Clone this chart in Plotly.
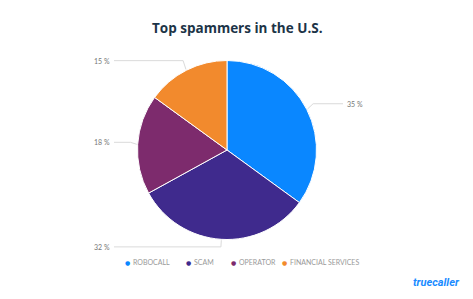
import math
import plotly.graph_objects as go

categories = ["ROBOCALL", "SCAM", "OPERATOR", "FINANCIAL SERVICES"]
values = [35, 32, 18, 15]
colors = ["#0A87FF", "#3F2A8D", "#7D2B6D", "#F28A2D"]
label_texts = [f"{v} %" for v in values]

W, H = 473, 299
cx, cy, r = 227, 150, 89.5

fig = go.Figure()
fig.add_trace(go.Pie(
    labels=categories, values=values, sort=False, direction="clockwise",
    rotation=0, textinfo="none", hoverinfo="label+percent",
    marker=dict(colors=colors, line=dict(color="white", width=1)),
    domain=dict(x=[(cx - r) / W, (cx + r) / W], y=[1 - (cy + r) / H, 1 - (cy - r) / H]),
    showlegend=False,
))

def px(x):
    return x / W

def py(y):
    return 1 - y / H

shapes = []
annotations = []
total = sum(values)
cum = 0
for v, txt in zip(values, label_texts):
    mid = (cum + v / 2) / total * 2 * math.pi
    cum += v
    sx, sy = cx + 1.01 * r * math.sin(mid), cy - 1.01 * r * math.cos(mid)
    ax, ay = cx + 1.08 * r * math.sin(mid), cy - 1.08 * r * math.cos(mid)
    ay = cy + (ay - cy) * 1.02 - 1.5
    right = math.sin(mid) > 0
    lx = 343 if right else 114
    line_col = "#DADADA"
    shapes.append(dict(type="line", xref="paper", yref="paper",
                       x0=px(sx), y0=py(sy), x1=px(ax), y1=py(ay),
                       line=dict(color=line_col, width=1)))
    shapes.append(dict(type="line", xref="paper", yref="paper",
                       x0=px(ax), y0=py(ay), x1=px(lx), y1=py(ay),
                       line=dict(color=line_col, width=1)))
    annotations.append(dict(xref="paper", yref="paper", x=px(lx + (2 if right else -2)), y=py(ay),
                            text=txt, showarrow=False,
                            xanchor="left" if right else "right", yanchor="middle",
                            font=dict(family="Lato", size=7, color="#777777")))

# legend (custom)
dot_x = [127, 188, 233, 284]
for name, col, dx in zip(categories, colors, dot_x):
    annotations.append(dict(xref="paper", yref="paper", x=px(dx), y=py(262),
                            text="●", showarrow=False, xanchor="center", yanchor="middle",
                            font=dict(family="DejaVu Sans", size=6, color=col)))
    annotations.append(dict(xref="paper", yref="paper", x=px(dx + 4), y=py(262),
                            text=name, showarrow=False, xanchor="left", yanchor="middle",
                            font=dict(family="Lato", size=7, color="#9A9A9A")))

annotations.append(dict(xref="paper", yref="paper", x=px(237), y=py(28),
                        text="<b>Top spammers in the U.S.</b>", showarrow=False,
                        xanchor="center", yanchor="middle",
                        font=dict(family="Open Sans", size=13.5, color="#1C3447")))
annotations.append(dict(xref="paper", yref="paper", x=px(436), y=py(282),
                        text="<b><i>truecaller</i></b>", showarrow=False,
                        xanchor="center", yanchor="middle",
                        font=dict(family="Roboto", size=11, color="#1A8CFF")))

fig.update_layout(
    width=W, height=H, margin=dict(l=0, r=0, t=0, b=0),
    paper_bgcolor="white", plot_bgcolor="white",
    shapes=shapes, annotations=annotations,
)
fig.write_html("out.html")
